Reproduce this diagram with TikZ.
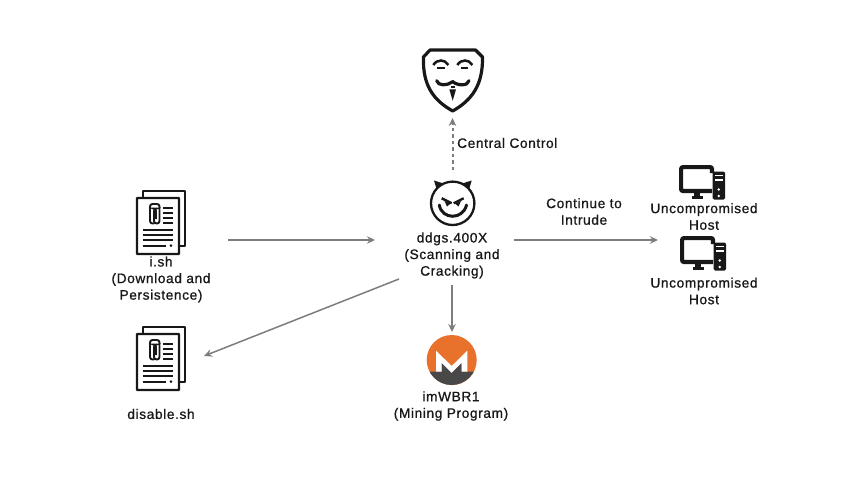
\documentclass[tikz,border=0pt]{standalone}
\usepackage{fontspec}
\usetikzlibrary{arrows.meta}
\setmainfont[LetterSpace=4.5,FakeBold=0.9]{Liberation Sans}
\definecolor{arrowgray}{RGB}{125,125,125}
\definecolor{inkblack}{RGB}{24,24,24}
\definecolor{moneroorange}{RGB}{232,114,44}
\definecolor{monerodark}{RGB}{72,72,72}
\tikzset{
  area/.style={inner sep=0pt,outer sep=0pt},
  label text/.style={text=inkblack,align=center,inner sep=0pt,font=\fontsize{13.7}{16.6}\selectfont},
  flow/.style={draw=arrowgray,line width=1.5pt,-{Stealth[length=8pt,width=7.5pt]}},
  inkline/.style={draw=inkblack,line width=1.9pt},
  pics/docicon/.style={code={
    \draw[inkblack,line width=2.4pt,line join=round] (6,0)--(6,-7)--(48,-7)--(48,48)--(42,48) ;
    \draw[inkblack,line width=2.4pt,fill=white,rounded corners=0.6pt] (0,0) rectangle (42,56) ;
    \draw[inkblack,line width=1.9pt,rounded corners=2.5pt] (17,25.5)--(13,25.5)--(13,6)--(22.5,6)--(22.5,25.5)--(17,25.5)--(17,10.5)--(19,10.5)--(19,21) ;
    \foreach \ly in {10.3,15.3,20.3,25.3}
      \draw[inkline] (26,\ly)--(35.7,\ly) ;
    \foreach \ly in {32,37,42}
      \draw[inkline] (5.7,\ly)--(35.7,\ly) ;
    \draw[inkline] (5.7,47.6)--(29,47.6) ;
    \fill[inkblack] (34,47.6) circle (1.4) ;
  }},
  pics/hosticon/.style={code={
    \draw[inkblack,line width=4.2pt,rounded corners=2pt] (33,26)--(2.1,26)--(2.1,2.1)--(33,2.1)--(33,8) ;
    \fill[inkblack] (15,27) rectangle (20.5,32) ;
    \fill[inkblack] (12.5,31) rectangle (24,34) ;
    \fill[inkblack,rounded corners=1.5pt] (33.5,6.5) rectangle (46,34.5) ;
    \fill[white] (35.5,9.5) rectangle (44,11) ;
    \fill[white] (35.5,14) rectangle (44,15.5) ;
    \fill[white] (39.7,24.5) circle (1.4) ;
    \fill[white] (39.7,31) circle (1.4) ;
  }},
}
\begin{document}
\begin{tikzpicture}[x=1pt,y=-1pt]
  \useasboundingbox (0,0) rectangle (865,493) ;
  % areas taken by icon and text
  \node[area,minimum width=64pt,minimum height=76pt] (mask) at (452.5,80) {} ;
  \node[area,minimum width=139pt,minimum height=115pt] (ddgs) at (444.5,227.5) {} ;
  \node[area,minimum width=134pt,minimum height=128pt] (ish) at (161,240) {} ;
  \node[area,minimum width=86pt,minimum height=68pt] (disable) at (161,356) {} ;
  \node[area,minimum width=92pt,minimum height=154pt] (hosts) at (704,240) {} ;
  \node[area,minimum size=56pt] (monero) at (452,360) {} ;
  \coordinate (ddgsout) at (399,279) ;

  % mask
  \draw[inkblack,line width=3.2pt,line join=round,fill=white] (430,50)--(475.5,50)--(482.5,57)
    .. controls (483,85) and (472,100) .. (452.7,111)
    .. controls (433,100) and (422.5,85) .. (423.5,57)--cycle ;
  \draw[inkblack,line width=2.5pt] (433.3,65) .. controls (437,59) and (445,59) .. (448.3,65) ;
  \draw[inkblack,line width=2.5pt] (457.3,65) .. controls (461,59) and (469,59) .. (472.3,65) ;
  \draw[inkblack,line width=2pt] (437.3,67.7)--(445,67.7) ;
  \draw[inkblack,line width=2pt] (461,67.7)--(468.3,67.7) ;
  \draw[inkblack,line width=3.2pt,line cap=round] (436.7,80.7) .. controls (438,86) and (447,86) .. (452.7,81.7)
    .. controls (458,86) and (468,86) .. (469,80.7) ;
  \fill[inkblack] (449.3,89.3)--(456,89.3)--(452.7,100.7)--cycle ;
  \draw[inkblack,line width=1.5pt] (450.5,87)--(455,87) ;

  % devil
  \fill[inkblack] (434,180.5)--(445,184)--(437.5,192)--cycle ;
  \fill[inkblack] (471.7,180.5)--(460.5,184)--(468.3,192)--cycle ;
  \draw[inkblack,line width=2.3pt,fill=white] (452.7,203.3) circle (21.7) ;
  \draw[inkblack,line width=2.4pt] (441.7,198.3)--(451.7,203.3) ;
  \draw[inkblack,line width=2.4pt] (463.7,198.3)--(453.7,203.3) ;
  \fill[inkblack] (444.5,201)--(450.5,203.5)--(447,206.5)--cycle ;
  \fill[inkblack] (461,201)--(455,203.5)--(458.5,206.5)--cycle ;
  \draw[inkblack,line width=3pt,line cap=round] (439.3,205) .. controls (442,220) and (463,220) .. (466.5,205) ;

  % monero
  \fill[moneroorange] (451.7,360) circle (25) ;
  \begin{scope}
    \clip (451.7,360) circle (25) ;
    \fill[monerodark] (420,371.7)--(441.7,371.7)--(441.7,362.7)--(451.7,372.7)--(461.7,362.7)--(461.7,371.7)--(485,371.7)--(485,390)--(420,390)--cycle ;
  \end{scope}
  \fill[white] (436,350.7)--(451.7,366)--(467.3,350.7)--(467.3,371.7)--(461.7,371.7)--(461.7,362.7)--(451.7,372.7)--(441.7,362.7)--(441.7,371.7)--(436,371.7)--cycle ;

  % files and hosts
  \pic at (137,198) {docicon} ;
  \pic at (137,334) {docicon} ;
  \pic at (679,165) {hosticon} ;
  \pic at (680,236) {hosticon} ;

  % labels
  \node[label text] (ishlabel) at (161,279.5) {i.sh\\(Download and\\Persistence)} ;
  \node[label text] (disablelabel) at (161,414) {disable.sh} ;
  \node[label text] (ddgslabel) at (452,255.5) {ddgs.400X\\(Scanning and\\Cracking)} ;
  \node[label text] (monerolabel) at (451,406) {imWBR1\\(Mining Program)} ;
  \node[label text] (hostlabela) at (704,216.5) {Uncompromised\\Host} ;
  \node[label text] (hostlabelb) at (704,291) {Uncompromised\\Host} ;
  \node[label text,right] (controllabel) at (457,143) {Central Control} ;
  \node[label text] (intrudelabel) at (584,211.5) {Continue to\\Intrude} ;

  % connectors
  \draw[flow,line width=2pt,dash pattern=on 3.5pt off 3pt] (ddgs.north -| mask.south) -- (mask.south) ;
  \draw[flow] (ish.east) -- (ish.east -| ddgs.west) ;
  \draw[flow] (ddgs.east |- hosts.west) -- (hosts.west) ;
  \draw[flow] (ddgs.south -| monero.north) -- (monero.north) ;
  \draw[flow] (ddgsout) -- (disable.east) ;
\end{tikzpicture}
\end{document}
